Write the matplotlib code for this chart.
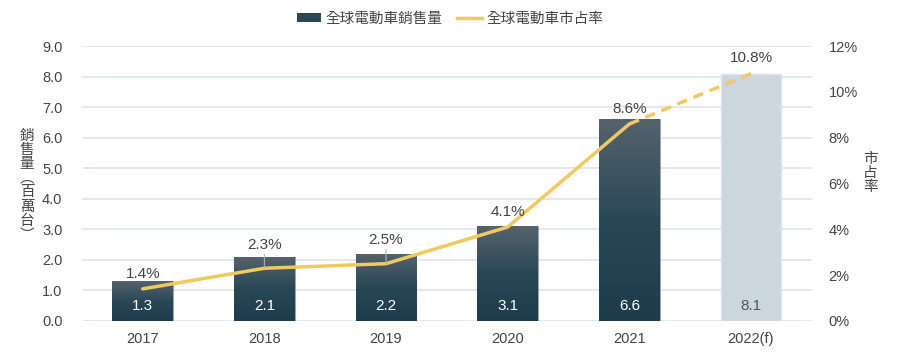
import numpy as np
import matplotlib
matplotlib.use("Agg")
import matplotlib.pyplot as plt
from matplotlib.colors import LinearSegmentedColormap
from matplotlib.lines import Line2D
from matplotlib.patches import Patch

plt.rcParams['font.family'] = ['Liberation Sans', 'Noto Sans CJK TC', 'DejaVu Sans']

years = ['2017', '2018', '2019', '2020', '2021', '2022(f)']
sales = [1.3, 2.1, 2.2, 3.1, 6.6, 8.1]          # millions
share = [1.4, 2.3, 2.5, 4.1, 8.6, 10.8]         # percent
sales_label = '全球電動車銷售量'
share_label = '全球電動車市占率'

text_col = '#444444'
grid_col = '#dde4ec'
line_col = '#f0c960'
forecast_col = '#cbd6dd'
grad = LinearSegmentedColormap.from_list('bar', ['#1d3c4b', '#2a4756', '#55636c'])

fig = plt.figure(figsize=(9, 3.55), dpi=100)
ax = fig.add_axes([0.091, 0.096, 0.811, 0.774])
ax2 = ax.twinx()

x = np.arange(len(years))
ax.set_xlim(-0.5, len(years) - 0.5)
ax.set_ylim(0, 9)
ax2.set_ylim(0, 12)

ax.set_yticks(np.arange(0, 9.5, 1.0))
ax.set_yticklabels([f'{v:.1f}' for v in np.arange(0, 9.5, 1.0)])
ax2.set_yticks(np.arange(0, 13, 2))
ax2.set_yticklabels([f'{v:d}%' for v in range(0, 13, 2)])
ax.set_xticks(x)
ax.set_xticklabels(years)

ax.grid(axis='y', color=grid_col, linewidth=1.2)
ax.set_axisbelow(True)
for a in (ax, ax2):
    for s in a.spines.values():
        s.set_visible(False)
    a.tick_params(length=0, labelsize=10.5, colors=text_col)
ax.tick_params(axis='y', pad=14)
ax.tick_params(axis='x', pad=8)
ax2.tick_params(axis='y', pad=12)

# bars, with a vertical gradient clipped to each patch
bars = ax.bar(x, sales, width=0.5, color='none', edgecolor='none', zorder=2)
gimg = np.linspace(0, 1, 256).reshape(-1, 1)
for i, b in enumerate(bars):
    x0, w, h = b.get_x(), b.get_width(), b.get_height()
    if i == len(bars) - 1:
        b.set_facecolor(forecast_col)
        b.set_edgecolor('#dde5ea')
        b.set_linewidth(1.0)
    else:
        b.set_edgecolor('#8a959c')
        b.set_linewidth(0.6)
        im = ax.imshow(gimg, cmap=grad, aspect='auto', origin='lower',
                       extent=[x0, x0 + w, 0, h], zorder=2, interpolation='bicubic')
        im.set_clip_path(b)
    ax.text(x[i], 0.5, f'{sales[i]:.1f}', ha='center', va='center', fontsize=11,
            color='#555555' if i == len(bars) - 1 else 'white', zorder=5)
ax.set_xlim(-0.5, len(years) - 0.5)
ax.set_ylim(0, 9)

# share line: solid for actuals, dashed to the forecast
ax2.plot(x[:-1], share[:-1], color=line_col, linewidth=2.5, zorder=4, solid_capstyle='round')
ax2.plot(x[-2:], share[-2:], color=line_col, linewidth=2.5, linestyle=(0, (3, 2)), zorder=4)

offsets = [6, 12, 12, 6, 6, 6]
for i in range(len(years)):
    lead = None
    if offsets[i] > 8:
        lead = dict(arrowstyle='-', color='#aab3ba', lw=0.8, shrinkA=0, shrinkB=0)
    ax2.annotate(f'{share[i]:.1f}%', (x[i], share[i]), xytext=(0, offsets[i]),
                 textcoords='offset points', ha='center', va='bottom', fontsize=11,
                 color=text_col, arrowprops=lead, zorder=6)

# axis titles (vertical CJK)
fig.text(0.03, 0.478, '銷\n售\n量\n︵\n百\n萬\n台\n︶', ha='center', va='center',
         fontsize=10.5, color=text_col, linespacing=1.02, family=['Noto Sans CJK TC'])
fig.text(0.967, 0.512, '市\n占\n率', ha='center', va='center',
         fontsize=10.5, color=text_col, linespacing=1.02, family=['Noto Sans CJK TC'])

handles = [Patch(facecolor='#2b4858', edgecolor='none'),
           Line2D([0], [0], color=line_col, linewidth=2.5)]
fig.legend(handles, [sales_label, share_label], loc='center', bbox_to_anchor=(0.5, 0.947),
           ncol=2, frameon=False, fontsize=10.5, handlelength=1.7, handleheight=0.6,
           columnspacing=1.0, handletextpad=0.3, labelcolor=text_col)

fig.savefig('out.png', dpi=100)
